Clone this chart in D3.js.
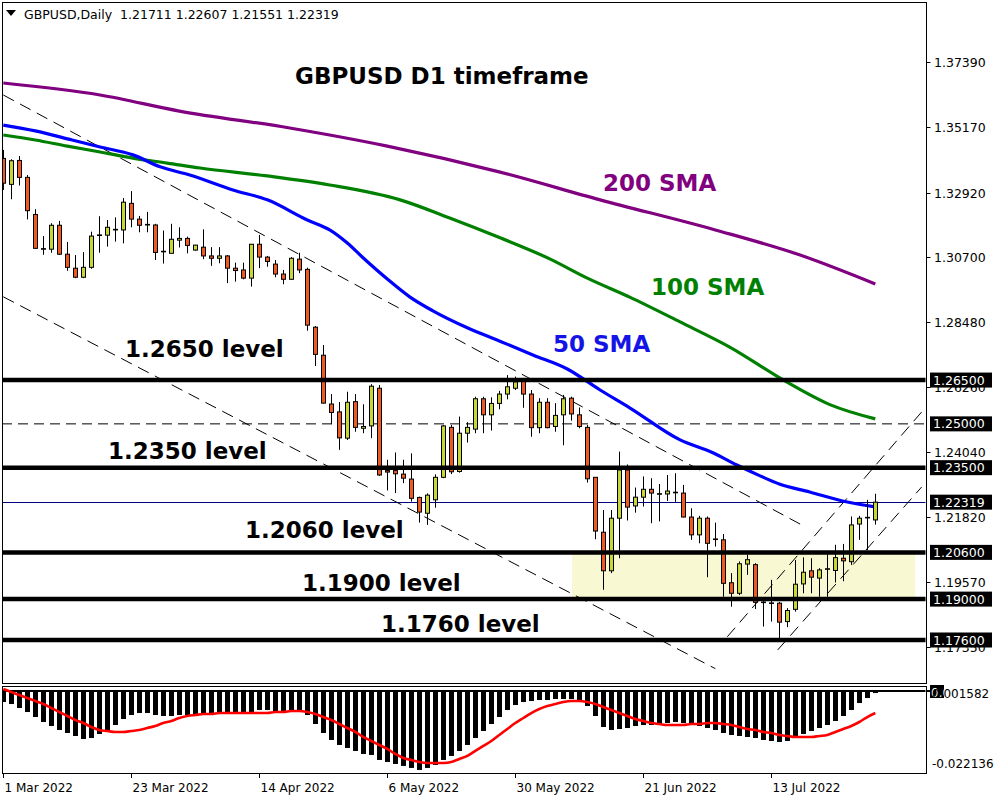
<!DOCTYPE html>
<html><head><meta charset="utf-8">
<script src="https://cdn.jsdelivr.net/npm/d3@7"></script>
<style>body{margin:0;background:#fff}svg{display:block}</style>
</head><body><svg id="c" width="1000" height="800"></svg>
<script>
// ---------- DATA ----------
const opens=[1.3409,1.3320,1.3402,1.3344,1.3217,1.3100,1.3098,1.3180,1.3081,1.3033,1.3002,1.3036,1.3145,1.3146,1.3164,1.3164,1.3255,1.3201,1.3183,1.3181,1.3089,1.3084,1.3129,1.3135,1.3095,1.3105,1.3075,1.3067,1.3075,1.3033,1.3027,1.2999,1.3115,1.3071,1.3047,1.3013,1.2995,1.3064,1.3029,1.2831,1.2735,1.2568,1.2541,1.2451,1.2576,1.2485,1.2493,1.2622,1.2340,1.2340,1.2328,1.2311,1.2248,1.2194,1.2240,1.2317,1.2488,1.2337,1.2468,1.2482,1.2586,1.2531,1.2570,1.2602,1.2622,1.2650,1.2602,1.2487,1.2574,1.2491,1.2531,1.2588,1.2531,1.2488,1.2317,1.2129,1.1997,1.2177,1.2342,1.2219,1.2249,1.2276,1.2259,1.2260,1.2264,1.2263,1.2181,1.2120,1.2177,1.2106,1.2103,1.1956,1.1920,1.2020,1.2018,1.1890,1.1887,1.1886,1.1823,1.1865,1.1952,1.1997,1.1972,1.2002,1.1998,1.2040,1.2028,1.2157,1.2178,1.21711];
const highs=[1.3438,1.3406,1.3417,1.3352,1.3235,1.3143,1.3187,1.3195,1.3123,1.3078,1.3088,1.3158,1.3211,1.3198,1.3207,1.3273,1.3297,1.3212,1.3226,1.3185,1.3162,1.3185,1.3173,1.3141,1.3113,1.3166,1.3105,1.3105,1.3078,1.3052,1.3052,1.3115,1.3147,1.3075,1.3061,1.3027,1.3071,1.3086,1.3035,1.2835,1.2770,1.2602,1.2575,1.2610,1.2602,1.2567,1.2636,1.2633,1.2377,1.2402,1.2377,1.2399,1.2251,1.2262,1.2327,1.2496,1.2496,1.2525,1.2506,1.2593,1.2593,1.2591,1.2613,1.2667,1.2662,1.2656,1.2616,1.2588,1.2588,1.2571,1.2599,1.2593,1.2556,1.2496,1.2317,1.2205,1.2205,1.2405,1.2361,1.2282,1.2320,1.2314,1.2294,1.2325,1.2331,1.2291,1.2211,1.2185,1.2183,1.2162,1.2123,1.1989,1.2029,1.2052,1.2023,1.1897,1.1966,1.1891,1.1869,1.2034,1.2043,1.2040,1.2006,1.2054,1.2086,1.2089,1.2183,1.2185,1.2240,1.22607];
const lows=[1.3301,1.3269,1.3316,1.3200,1.3100,1.3079,1.3086,1.3078,1.3024,1.2999,1.2999,1.3031,1.3086,1.3107,1.3124,1.3118,1.3173,1.3156,1.3156,1.3061,1.3049,1.3083,1.3104,1.3084,1.3093,1.3064,1.3041,1.3050,1.2982,1.2987,1.2995,1.2970,1.3033,1.3038,1.3002,1.2978,1.2993,1.3016,1.2819,1.2698,1.2570,1.2499,1.2411,1.2445,1.2473,1.2468,1.2451,1.2322,1.2272,1.2263,1.2297,1.2234,1.2162,1.2154,1.2213,1.2314,1.2328,1.2333,1.2436,1.2468,1.2468,1.2477,1.2550,1.2584,1.2616,1.2555,1.2456,1.2468,1.2485,1.2473,1.2427,1.2511,1.2485,1.2299,1.2105,1.1932,1.1989,1.2040,1.2169,1.2196,1.2217,1.2160,1.2166,1.2236,1.2233,1.2180,1.2103,1.2091,1.1975,1.2080,1.1908,1.1874,1.1914,1.1983,1.1866,1.1806,1.1823,1.1766,1.1804,1.1857,1.1920,1.1920,1.1908,1.1908,1.1957,1.1961,1.2017,1.2103,1.2068,1.21551];
const closes=[1.3324,1.3401,1.3344,1.3230,1.3101,1.3098,1.3180,1.3081,1.3036,1.3002,1.3036,1.3143,1.3147,1.3173,1.3166,1.3259,1.3201,1.3180,1.3181,1.3087,1.3091,1.3132,1.3135,1.3111,1.3112,1.3075,1.3067,1.3075,1.3033,1.3025,1.2999,1.3115,1.3071,1.3056,1.3013,1.2995,1.3067,1.3027,1.2838,1.2738,1.2571,1.2539,1.2452,1.2574,1.2488,1.2491,1.2629,1.2325,1.2335,1.2329,1.2314,1.2245,1.2198,1.2256,1.2317,1.2493,1.2336,1.2468,1.2488,1.2586,1.2531,1.2570,1.2602,1.2627,1.2644,1.2602,1.2487,1.2574,1.2487,1.2529,1.2586,1.2534,1.2491,1.2312,1.2133,1.1997,1.2177,1.2342,1.2215,1.2249,1.2276,1.2263,1.2261,1.2270,1.2266,1.2181,1.2120,1.2177,1.2091,1.2104,1.1954,1.1920,1.2021,1.2035,1.1889,1.1888,1.1885,1.1821,1.1861,1.1951,1.1992,1.1975,1.2000,1.2004,1.2042,1.2031,1.2154,1.2177,1.2180,1.22319];

// moving averages: [bar index, value]
const sma50=[[0,1.3523],[4,1.3503],[8.6,1.3472],[12.1,1.3448],[16.2,1.3421],[19.6,1.3380],[23.3,1.3352],[28.7,1.3301],[33,1.3267],[38,1.3198],[40.8,1.3164],[43,1.3119],[45,1.3068],[48,1.2996],[50.8,1.2935],[53.7,1.2887],[58,1.2829],[62,1.2784],[66.2,1.2736],[70.5,1.2688],[74.6,1.2616],[78.3,1.2555],[84.6,1.2445],[88.7,1.2401],[91.7,1.2359],[94.6,1.2322],[97,1.2294],[100.8,1.2267],[104.9,1.2236],[109,1.2216]];
const sma100=[[0,1.3489],[4,1.3472],[8,1.3451],[12.1,1.3431],[16.2,1.3410],[20.5,1.3393],[24.6,1.3376],[33,1.3349],[40.8,1.3318],[49.6,1.3267],[55.8,1.3205],[62.1,1.3137],[68.3,1.3065],[73,1.2999],[78.3,1.2934],[84.6,1.2849],[90.8,1.2763],[97.7,1.2647],[103.4,1.2565],[109,1.2517]];
const sma200=[[0,1.3667],[12.1,1.3626],[22,1.3571],[35.8,1.3513],[48,1.3451],[62.1,1.3362],[74.6,1.3267],[89,1.3164],[99.6,1.3078],[109,1.2979]];

// oscillator (sub window)
const histVals=[-0.00308,-0.00364,-0.00476,-0.00588,-0.00728,-0.00868,-0.0098,-0.01092,-0.01176,-0.0126,-0.01344,-0.01316,-0.01204,-0.01092,-0.00952,-0.00784,-0.00672,-0.00616,-0.00616,-0.00672,-0.007,-0.007,-0.00672,-0.00672,-0.00644,-0.00644,-0.00644,-0.00616,-0.00644,-0.00644,-0.00644,-0.00588,-0.00532,-0.00532,-0.0056,-0.00588,-0.0056,-0.00532,-0.00672,-0.00924,-0.01176,-0.01372,-0.01512,-0.01596,-0.0168,-0.01764,-0.01792,-0.01932,-0.01988,-0.02044,-0.021,-0.02156,-0.02212,-0.02156,-0.02072,-0.01932,-0.0182,-0.0168,-0.01512,-0.01316,-0.0112,-0.00924,-0.00728,-0.00532,-0.00392,-0.00308,-0.0028,-0.00252,-0.00252,-0.00224,-0.00224,-0.00224,-0.00252,-0.0042,-0.007,-0.01008,-0.01092,-0.01064,-0.01036,-0.0098,-0.00952,-0.00952,-0.00924,-0.00896,-0.00868,-0.00896,-0.00952,-0.0098,-0.01036,-0.01092,-0.01176,-0.01232,-0.0126,-0.01288,-0.01316,-0.01372,-0.014,-0.01428,-0.014,-0.01316,-0.01204,-0.0112,-0.01036,-0.00952,-0.0084,-0.007,-0.00532,-0.00336,-0.00196,-0.00056];
const signalVals=[0.00056,-0.00028,-0.00112,-0.00196,-0.0028,-0.00364,-0.00476,-0.00588,-0.007,-0.00812,-0.00896,-0.01008,-0.01092,-0.0112,-0.01148,-0.01148,-0.0112,-0.01092,-0.01036,-0.0098,-0.00896,-0.0084,-0.00756,-0.007,-0.00672,-0.00644,-0.00644,-0.00616,-0.00616,-0.00616,-0.00616,-0.00616,-0.00616,-0.00616,-0.00588,-0.00588,-0.0056,-0.0056,-0.00588,-0.00644,-0.00728,-0.00812,-0.00924,-0.01036,-0.01148,-0.01288,-0.014,-0.01512,-0.01624,-0.01764,-0.01876,-0.01932,-0.01988,-0.02016,-0.02016,-0.02016,-0.01988,-0.01904,-0.0182,-0.0168,-0.0154,-0.014,-0.01232,-0.01064,-0.00896,-0.00756,-0.00616,-0.00504,-0.0042,-0.00364,-0.00308,-0.0028,-0.0028,-0.00308,-0.00364,-0.00448,-0.00532,-0.00616,-0.007,-0.00784,-0.0084,-0.00896,-0.00924,-0.00952,-0.00952,-0.00952,-0.00924,-0.00924,-0.00896,-0.00896,-0.00924,-0.00952,-0.01008,-0.01064,-0.01092,-0.01148,-0.01176,-0.01232,-0.0126,-0.01288,-0.01288,-0.01288,-0.0126,-0.01232,-0.01148,-0.01064,-0.0098,-0.00868,-0.00728,-0.00616];
const subRange=[-0.022136,0.001582];

// axes
const priceTicks=[1.37390,1.35170,1.32920,1.30700,1.28480,1.26260,1.24040,1.21820,1.19570,1.17350];
const dateTickIdx=[0,16,32,48,64,80,96];
const dateTickLabels=["1 Mar 2022","23 Mar 2022","14 Apr 2022","6 May 2022","30 May 2022","21 Jun 2022","13 Jul 2022"];

// chart objects
const levels=[1.2650,1.2350,1.2060,1.1900,1.1760];
const levelNames=["1.2650 level","1.2350 level","1.2060 level","1.1900 level","1.1760 level"];
const dashedLevel=1.2500;
const bidPrice=1.22319;
const priceTags=[1.26500,1.25000,1.23500,1.22319,1.20600,1.19000,1.17600];
const zone={i0:71.1,i1:114,top:1.2060,bottom:1.1900};
const trendLines=[[[0,1.3626],[100,1.2151]],[[0,1.2935],[89,1.1662]],[[90.5,1.1771],[114.8,1.2541]],[[96.8,1.1726],[114.8,1.2284]]];
const header="GBPUSD,Daily  1.21711 1.22607 1.21551 1.22319";

// ---------- DRAW ----------
const svg=d3.select('#c');
const L=2,R=926,T=2,B=683,ST=686,SB=773;
const x=d3.scaleLinear().domain([0,115]).range([3.3,923.3]);
const y=d3.scaleLinear().domain([1.1760,1.3739]).range([640,62]);
const ym=d3.scaleLinear().domain(subRange).range([770,685.4]);
const FONT="DejaVu Sans, Verdana, sans-serif";

svg.append('rect').attr('width',1000).attr('height',800).attr('fill','#fff');
const defs=svg.append('defs');
defs.append('clipPath').attr('id','cm').append('rect').attr('x',L+0.5).attr('y',T+0.5).attr('width',R-L-1).attr('height',B-T-1);
defs.append('clipPath').attr('id','cs').append('rect').attr('x',L+0.5).attr('y',ST+0.5).attr('width',R-L-1).attr('height',SB-ST-1);

const gm=svg.append('g').attr('clip-path','url(#cm)');
gm.append('rect').attr('x',x(zone.i0)).attr('y',y(zone.top)).attr('width',x(zone.i1)-x(zone.i0)).attr('height',y(zone.bottom)-y(zone.top)).attr('fill','#f8f8d2');
gm.append('line').attr('x1',L).attr('x2',R).attr('y1',y(dashedLevel)).attr('y2',y(dashedLevel)).attr('stroke','#000').attr('stroke-width',1).attr('stroke-dasharray','10,6');
gm.append('line').attr('x1',L).attr('x2',R).attr('y1',Math.round(y(bidPrice))+0.5).attr('y2',Math.round(y(bidPrice))+0.5).attr('stroke','#000080').attr('stroke-width',1);
trendLines.forEach(t=>{
  gm.append('line').attr('x1',x(t[0][0])).attr('y1',y(t[0][1])).attr('x2',x(t[1][0])).attr('y2',y(t[1][1])).attr('stroke','#000').attr('stroke-width',1).attr('stroke-dasharray','12,7');
});
const ln=d3.line().x(d=>x(d[0])).y(d=>y(d[1])).curve(d3.curveMonotoneX);
[[sma200,'#800080'],[sma100,'#008000'],[sma50,'#0000ff']].forEach(([d,c])=>{
  gm.append('path').attr('d',ln(d)).attr('fill','none').attr('stroke',c).attr('stroke-width',3.2);
});
const idx=d3.range(opens.length);
const cg=gm.append('g');
cg.selectAll('line.w').data(idx).join('line').attr('class','w')
  .attr('x1',i=>Math.round(x(i))+0.5).attr('x2',i=>Math.round(x(i))+0.5)
  .attr('y1',i=>y(highs[i])).attr('y2',i=>y(lows[i])).attr('stroke','#000').attr('stroke-width',1);
cg.selectAll('rect.b').data(idx).join('rect').attr('class','b')
  .attr('x',i=>Math.round(x(i))-1.5).attr('width',4)
  .attr('y',i=>y(Math.max(opens[i],closes[i])))
  .attr('height',i=>Math.max(0.6,Math.abs(y(opens[i])-y(closes[i]))))
  .attr('fill',i=>closes[i]>=opens[i]?'#c8d636':'#f05a22')
  .attr('stroke','#000').attr('stroke-width',1);
levels.forEach(v=>{
  gm.append('line').attr('x1',L).attr('x2',R).attr('y1',y(v)).attr('y2',y(v)).attr('stroke','#000').attr('stroke-width',4.5);
});
const txt=(s,xx,yy,c)=>svg.append('text').attr('x',xx).attr('y',yy).attr('fill',c).attr('font-family',FONT).attr('font-weight','bold').attr('font-size',23).text(s);
txt("GBPUSD D1 timeframe",295,84,'#000');
const levelPos=[[125,357],[108,459],[245,538],[302,591],[381,632]];
levelNames.forEach((s,k)=>txt(s,levelPos[k][0],levelPos[k][1],'#000'));
txt("200 SMA",603,191,'#800080');
txt("100 SMA",651,295,'#008000');
txt("50 SMA",553,352,'#1414e6');

svg.append('path').attr('d','M6,10 L16,10 L11,16 Z').attr('fill','#000');
svg.append('text').attr('x',24).attr('y',19).attr('font-family',FONT).attr('font-size',12.5).attr('fill','#000').style('white-space','pre').text(header);

const gs=svg.append('g').attr('clip-path','url(#cs)');
gs.selectAll('rect.h').data(idx).join('rect').attr('class','h')
  .attr('x',i=>Math.round(x(i))-2).attr('width',5)
  .attr('y',ym(0)).attr('height',i=>Math.max(0,ym(histVals[i])-ym(0))).attr('fill','#000');
gs.append('line').attr('x1',L).attr('x2',R).attr('y1',ym(0)).attr('y2',ym(0)).attr('stroke','#000').attr('stroke-width',2);
gs.append('path').attr('d',d3.line().x((d,i)=>x(i)).y(d=>ym(d)).curve(d3.curveMonotoneX)(signalVals)).attr('fill','none').attr('stroke','#ff0000').attr('stroke-width',2.6);

svg.append('rect').attr('x',L+0.5).attr('y',T+0.5).attr('width',R-L).attr('height',B-T).attr('fill','none').attr('stroke','#000');
svg.append('rect').attr('x',L+0.5).attr('y',ST+0.5).attr('width',R-L).attr('height',SB-ST).attr('fill','none').attr('stroke','#000');

const ax=svg.append('g').attr('font-family',FONT).attr('font-size',12.5);
priceTicks.forEach(v=>{
  const yy=Math.round(y(v))+0.5;
  ax.append('line').attr('x1',R+0.5).attr('x2',R+4.5).attr('y1',yy).attr('y2',yy).attr('stroke','#000');
  ax.append('text').attr('x',934).attr('y',yy+4.5).attr('fill','#000').text(v.toFixed(5));
});
priceTags.forEach(v=>{
  const yy=y(v);
  ax.append('rect').attr('x',930).attr('y',yy-7.5).attr('width',62).attr('height',15).attr('fill','#000');
  ax.append('text').attr('x',933).attr('y',yy+4.5).attr('fill','#fff').text(v.toFixed(5));
});
ax.append('rect').attr('x',930).attr('y',685).attr('width',14).attr('height',13).attr('fill','#000');
ax.append('text').attr('x',931).attr('y',697).attr('fill','#fff').attr('font-size',12).text('0.00');
ax.append('text').attr('x',932).attr('y',698).attr('fill','#000').attr('font-size',12).text(subRange[1].toFixed(6));
ax.append('line').attr('x1',R).attr('x2',R+4).attr('y1',ym(0)).attr('y2',ym(0)).attr('stroke','#000').attr('stroke-width',2);
ax.append('text').attr('x',932).attr('y',768).attr('fill','#000').attr('font-size',12).text(subRange[0].toFixed(6));

dateTickIdx.forEach((t,k)=>{
  const xx=Math.round(x(t))+0.5;
  ax.append('line').attr('x1',xx).attr('x2',xx).attr('y1',SB).attr('y2',SB+5).attr('stroke','#000');
  ax.append('text').attr('x',xx+1).attr('y',792).attr('fill','#000').attr('font-size',12).text(dateTickLabels[k]);
});
</script></body></html>
